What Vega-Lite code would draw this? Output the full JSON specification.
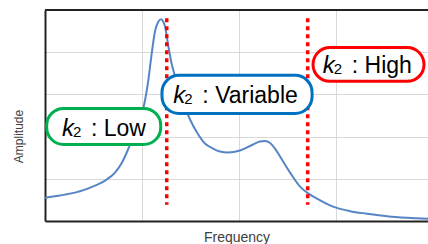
{
  "$schema": "https://vega.github.io/schema/vega-lite/v6.json",
  "width": 383,
  "height": 211,
  "autosize": "none",
  "padding": {"left": 45, "top": 10, "right": 0, "bottom": 23},
  "background": "white",
  "config": {"view": {"stroke": null}, "font": "Liberation Sans"},
  "datasets": {
    "curve": [
      {"x": 0, "y": 0.553}, {"x": 0.103, "y": 0.589}, {"x": 0.206, "y": 0.625}, {"x": 0.309, "y": 0.672},
      {"x": 0.412, "y": 0.743}, {"x": 0.515, "y": 0.838}, {"x": 0.619, "y": 0.957}, {"x": 0.722, "y": 1.147},
      {"x": 0.794, "y": 1.385}, {"x": 0.856, "y": 1.694}, {"x": 0.928, "y": 2.121}, {"x": 0.979, "y": 2.454},
      {"x": 1.010, "y": 2.644}, {"x": 1.062, "y": 3.285}, {"x": 1.103, "y": 4.021}, {"x": 1.134, "y": 4.496},
      {"x": 1.165, "y": 4.710}, {"x": 1.196, "y": 4.781}, {"x": 1.216, "y": 4.734}, {"x": 1.237, "y": 4.615},
      {"x": 1.268, "y": 4.188}, {"x": 1.309, "y": 3.689}, {"x": 1.351, "y": 3.356}, {"x": 1.392, "y": 3.048},
      {"x": 1.443, "y": 2.691}, {"x": 1.495, "y": 2.406}, {"x": 1.567, "y": 2.097}, {"x": 1.649, "y": 1.836},
      {"x": 1.732, "y": 1.717}, {"x": 1.804, "y": 1.646}, {"x": 1.887, "y": 1.622}, {"x": 2.010, "y": 1.670},
      {"x": 2.144, "y": 1.812}, {"x": 2.216, "y": 1.884}, {"x": 2.268, "y": 1.895}, {"x": 2.320, "y": 1.848},
      {"x": 2.371, "y": 1.717}, {"x": 2.423, "y": 1.527}, {"x": 2.526, "y": 1.147}, {"x": 2.629, "y": 0.815},
      {"x": 2.701, "y": 0.672}, {"x": 2.804, "y": 0.530}, {"x": 2.969, "y": 0.340}, {"x": 3.144, "y": 0.233},
      {"x": 3.320, "y": 0.173}, {"x": 3.526, "y": 0.114}, {"x": 3.732, "y": 0.078}, {"x": 3.948, "y": 0.055}
    ],
    "markers": [
      {"x": 1.255, "y": 4.805, "y2": 0.387},
      {"x": 2.708, "y": 4.805, "y2": 0.387}
    ],
    "boxes": [
      {"level": "Low", "x": 0.0175, "x2": 1.193, "y": 2.667, "y2": 1.812},
      {"level": "Variable", "x": 1.206, "x2": 2.753, "y": 3.451, "y2": 2.549},
      {"level": "High", "x": 2.763, "x2": 3.907, "y": 4.109, "y2": 3.309}
    ],
    "labels": [
      {"level": "Low", "x": 0.175, "y": 2.026, "rest": ": Low"},
      {"level": "Variable", "x": 1.323, "y": 2.803, "rest": ": Variable"},
      {"level": "High", "x": 2.863, "y": 3.515, "rest": ": High"}
    ],
    "frame": [{"x": 0, "x2": 3.948, "y": 5}]
  },
  "encoding": {
    "x": {
      "field": "x", "type": "quantitative",
      "scale": {"domain": [0, 3.948], "nice": false, "zero": false},
      "axis": {
        "title": "Frequency", "values": [1, 2, 3], "labels": false, "ticks": false,
        "grid": true, "gridColor": "#d9d9d9", "gridWidth": 1,
        "domainColor": "#222222", "domainWidth": 2,
        "titleFont": "Liberation Sans", "titleFontSize": 14, "titleFontWeight": "normal",
        "titleColor": "#404040", "titleBaseline": "middle", "titleY": 16
      }
    },
    "y": {
      "field": "y", "type": "quantitative",
      "scale": {"domain": [0, 5], "nice": false, "zero": false},
      "axis": {
        "title": "Amplitude", "values": [1, 2, 3, 4], "labels": false, "ticks": false,
        "grid": true, "gridColor": "#d9d9d9", "gridWidth": 1,
        "domainColor": "#222222", "domainWidth": 2,
        "titleFont": "Liberation Sans", "titleFontSize": 12, "titleFontWeight": "normal",
        "titleColor": "#404040", "titleBaseline": "middle", "titleX": -27, "titleY": 126
      }
    }
  },
  "layer": [
    {
      "data": {"name": "frame"},
      "mark": {"type": "rule", "color": "#222222", "strokeWidth": 2},
      "encoding": {"x2": {"field": "x2"}}
    },
    {
      "data": {"name": "curve"},
      "mark": {"type": "line", "interpolate": "monotone", "color": "#5585C5", "strokeWidth": 2}
    },
    {
      "data": {"name": "markers"},
      "mark": {"type": "rule", "color": "#FF0000", "strokeWidth": 3.5, "strokeDash": [4, 4], "strokeCap": "butt"},
      "encoding": {"y2": {"field": "y2"}}
    },
    {
      "data": {"name": "boxes"},
      "mark": {"type": "rect", "cornerRadius": 17, "fill": "white", "strokeWidth": 3},
      "encoding": {
        "x2": {"field": "x2"},
        "y2": {"field": "y2"},
        "stroke": {
          "field": "level", "type": "nominal", "legend": null,
          "scale": {"domain": ["Low", "Variable", "High"], "range": ["#00B050", "#0070C0", "#FF0000"]}
        }
      }
    },
    {
      "data": {"name": "labels"},
      "mark": {"type": "text", "text": "k", "font": "Liberation Sans", "fontSize": 24, "fontStyle": "italic", "align": "left", "baseline": "alphabetic", "color": "#000000"}
    },
    {
      "data": {"name": "labels"},
      "mark": {"type": "text", "text": "2", "font": "Liberation Sans", "fontSize": 15, "align": "left", "baseline": "alphabetic", "dx": 11, "dy": 1, "color": "#000000"}
    },
    {
      "data": {"name": "labels"},
      "mark": {"type": "text", "font": "Liberation Sans", "fontSize": 23, "align": "left", "baseline": "alphabetic", "dx": 29, "color": "#000000"},
      "encoding": {"text": {"field": "rest"}}
    }
  ]
}
